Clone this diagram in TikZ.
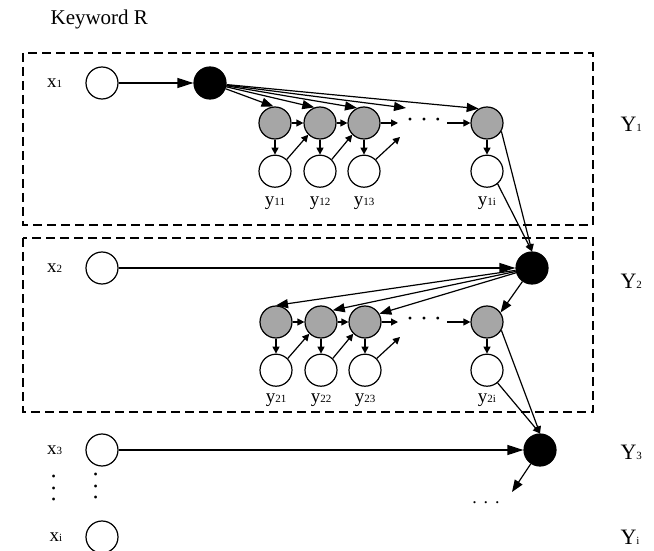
\documentclass[tikz,border=0pt]{standalone}
\usepackage{fontspec}
\setmainfont{Liberation Serif}
\usepackage{tikz}
\usetikzlibrary{automata,arrows.meta,positioning}

\newcommand{\ix}[1]{{\fontsize{5.5}{5.5}\selectfont #1}}

\begin{document}
\begin{tikzpicture}[->, >={Triangle[length=6pt,width=4.5pt]}, x=0.5pt, y=-0.5pt, line width=0.6pt]
      \tikzstyle{every state}=[fill=white, draw=black, line width=0.6pt, minimum size=16pt, inner sep=0pt]
      \tikzstyle{filled}=[state, fill=black]
      \tikzstyle{shaded}=[state, fill=black!35]
      \tikzstyle{longtip}=[-{Triangle[length=8pt,width=5pt]}]
      \tikzstyle{shorttip}=[-{Triangle[length=3.5pt,width=3.5pt]}]
      \tikzstyle{setbox}=[draw, -, dash pattern=on 4.5pt off 2.5pt]
      \tikzstyle{inlab}=[font=\fontsize{9.5}{10}\selectfont]
      \tikzstyle{outlab}=[font=\fontsize{9.5}{10}\selectfont]
      \tikzstyle{setlab}=[font=\fontsize{11}{12}\selectfont, anchor=base west, inner sep=0pt]
      \tikzstyle{skipdots}=[font=\fontsize{12}{12}\selectfont]

      \useasboundingbox (0,0) rectangle (654,551);

      \node[anchor=base west, inner sep=0pt, font=\fontsize{10.5}{12}\selectfont] (title) at (50,25) {Keyword R};

      \draw[setbox] (23,53) rectangle (593,225);
      \draw[setbox] (23,238) rectangle (593,412);

      \node[state] (x1) at (102,83) {};
      \node[inlab, left=8pt of x1] (lx1) {x\ix{1}};
      \node[filled] (b1) at (210,83) {};
      \node[shaded] (g11) at (275,123) {};
      \node[shaded] (g12) at (320,123) {};
      \node[shaded] (g13) at (364,123) {};
      \node[shaded] (g1i) at (487,123) {};
      \node[state] (w11) [below=7.5pt of g11] {};
      \node[state] (w12) [below=7.5pt of g12] {};
      \node[state] (w13) [below=7.5pt of g13] {};
      \node[state] (w1i) [below=7.5pt of g1i] {};
      \node[outlab, below=1pt of w11] (ly11) {y\ix{11}};
      \node[outlab, below=1pt of w12] (ly12) {y\ix{12}};
      \node[outlab, below=1pt of w13] (ly13) {y\ix{13}};
      \node[outlab, below=1pt of w1i] (ly1i) {y\ix{1i}};
      \node[skipdots] (d1) at (424,123) {·\hspace{3pt}·\hspace{3pt}·};
      \coordinate (a13) at (398,123);
      \coordinate (a1i) at (447,123);
      \coordinate (c13) at (400,137);
      \coordinate (f1) at (406,108);
      \node[setlab] (Y1) at (620,132) {Y\ix{1}};

      \node[state] (x2) at (102,268) {};
      \node[inlab, left=8pt of x2] (lx2) {x\ix{2}};
      \node[filled] (b2) at (532,268) {};
      \node[shaded] (g21) at (276,322) {};
      \node[shaded] (g22) at (321,322) {};
      \node[shaded] (g23) at (365,322) {};
      \node[shaded] (g2i) at (487,322) {};
      \node[state] (w21) [below=7.5pt of g21] {};
      \node[state] (w22) [below=7.5pt of g22] {};
      \node[state] (w23) [below=7.5pt of g23] {};
      \node[state] (w2i) [below=7.5pt of g2i] {};
      \node[outlab, below=0pt of w21] (ly21) {y\ix{21}};
      \node[outlab, below=0pt of w22] (ly22) {y\ix{22}};
      \node[outlab, below=0pt of w23] (ly23) {y\ix{23}};
      \node[outlab, below=0pt of w2i] (ly2i) {y\ix{2i}};
      \node[skipdots] (d2) at (424,322) {·\hspace{3pt}·\hspace{3pt}·};
      \coordinate (a23) at (398,322);
      \coordinate (a2i) at (447,322);
      \coordinate (c23) at (400,337);
      \node[setlab] (Y2) at (620,288) {Y\ix{2}};

      \node[state] (x3) at (102,450) {};
      \node[inlab, left=8pt of x3] (lx3) {x\ix{3}};
      \node[filled] (b3) at (540,450) {};
      \coordinate (r3) at (512,492);
      \node[anchor=base, font=\fontsize{9}{10}\selectfont] (d3) at (486,503) {.\hspace{3.5pt}.\hspace{3.5pt}.};
      \node[setlab] (Y3) at (620,459) {Y\ix{3}};
      \node[skipdots, rotate=90] (vl) at (57,488) {·\hspace{2pt}·\hspace{2pt}·};
      \node[skipdots, rotate=90] (vr) at (99,486) {·\hspace{2pt}·\hspace{2pt}·};

      \node[state] (xi) at (102,537) {};
      \node[inlab, left=8pt of xi] (lxi) {x\ix{i}};
      \node[setlab] (Yi) at (620,544) {Y\ix{i}};

      \path (x1) edge[longtip] (b1);
      \path (b1) edge (g11.95);
      \path (b1) edge (g12.110);
      \path (b1) edge (g13.115);
      \path (b1) edge (f1);
      \path (b1) edge (g1i.120);
      \path (g11) edge[shorttip] (g12);
      \path (g12) edge[shorttip] (g13);
      \path (g13) edge[shorttip] (a13);
      \path (a1i) edge[shorttip] (g1i);
      \path (g11) edge[shorttip] (w11);
      \path (g12) edge[shorttip] (w12);
      \path (g13) edge[shorttip] (w13);
      \path (g1i) edge[shorttip] (w1i);
      \path (w11.45) edge[shorttip] (g12.225);
      \path (w12.45) edge[shorttip] (g13.225);
      \path (w13.45) edge[shorttip] (c13);
      \path (g1i.-30) edge[shorttip] (b2.north);
      \path (w1i.-50) edge[shorttip] (b2.north);

      \path (x2) edge[longtip] (b2);
      \path (b2) edge (g21.north);
      \path (b2) edge (g22.45);
      \path (b2) edge (g23.30);
      \path (b2) edge (g2i.35);
      \path (g21) edge[shorttip] (g22);
      \path (g22) edge[shorttip] (g23);
      \path (g23) edge[shorttip] (a23);
      \path (a2i) edge[shorttip] (g2i);
      \path (g21) edge[shorttip] (w21);
      \path (g22) edge[shorttip] (w22);
      \path (g23) edge[shorttip] (w23);
      \path (g2i) edge[shorttip] (w2i);
      \path (w21.45) edge[shorttip] (g22.225);
      \path (w22.45) edge[shorttip] (g23.225);
      \path (w23.45) edge[shorttip] (c23);
      \path (g2i.-30) edge[shorttip] (b3.north);
      \path (w2i.-50) edge[shorttip] (b3.north);

      \path (x3) edge[longtip] (b3);
      \path (b3) edge (r3);

      \end{tikzpicture}
\end{document}
